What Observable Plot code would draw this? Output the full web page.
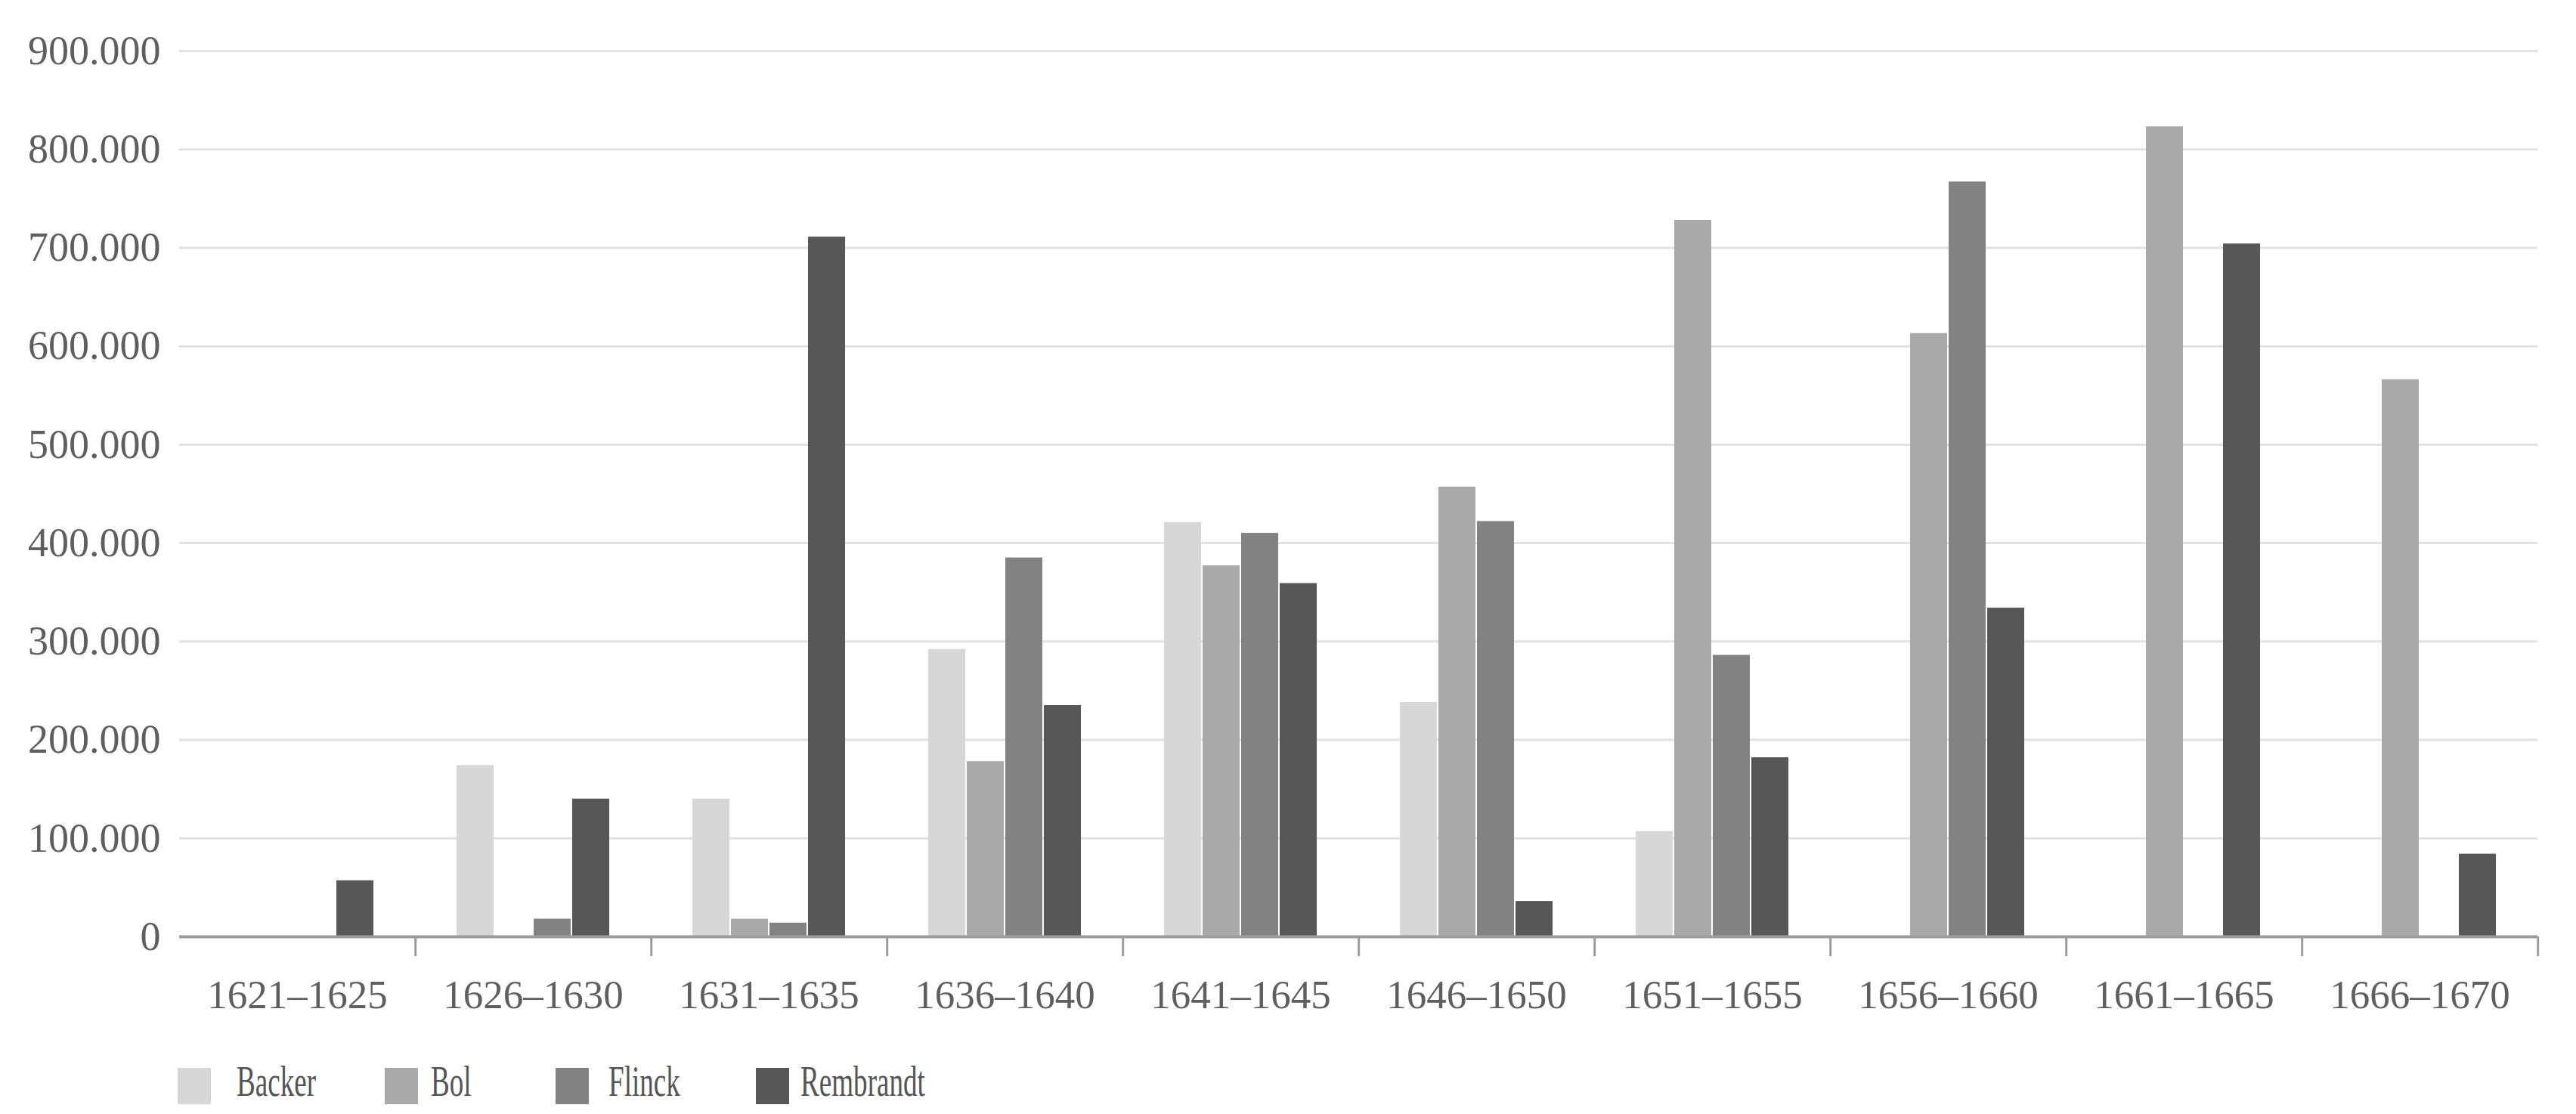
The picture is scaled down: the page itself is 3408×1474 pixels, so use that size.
<!DOCTYPE html>
<html>
<head>
<meta charset="utf-8">
<script src="https://cdn.jsdelivr.net/npm/d3@7"></script>
<script src="https://cdn.jsdelivr.net/npm/@observablehq/plot@0.6"></script>
<style>
  html, body { margin: 0; padding: 0; background: #ffffff; }
  #wrap { position: relative; width: 3408px; height: 1474px; }
  #legend { position: absolute; left: 0; top: 1380px; width: 3408px; height: 94px; }
  .sw { position: absolute; top: 33px; width: 44px; height: 48px; }
  .lb { position: absolute; top: 22px; font-family: "Liberation Serif", serif; font-size: 58px; color: #555; transform: scaleX(0.64); transform-origin: left center; white-space: nowrap; line-height: 1; }
</style>
</head>
<body>
<div id="wrap">
  <div id="chart"></div>
  <div id="legend"></div>
</div>
<script>
const periods = ["1621–1625","1626–1630","1631–1635","1636–1640","1641–1645","1646–1650","1651–1655","1656–1660","1661–1665","1666–1670"];
const artists = ["Backer","Bol","Flinck","Rembrandt"];
const backer    = [0, 174000, 140000, 292000, 421000, 238000, 107000, 0, 0, 0];
const bol       = [0, 0, 18000, 178000, 377000, 457000, 728000, 613000, 823000, 566000];
const flinck    = [0, 18000, 14000, 385000, 410000, 422000, 286000, 767000, 0, 0];
const rembrandt = [57000, 140000, 711000, 235000, 359000, 36000, 182000, 334000, 704000, 84000];
const colors = ["#d7d7d7", "#a9a9a9", "#828282", "#575757"];
const yTicks = [0, 100000, 200000, 300000, 400000, 500000, 600000, 700000, 800000, 900000];

const series = [backer, bol, flinck, rembrandt];
const data = [];
periods.forEach((p, i) => {
  artists.forEach((a, j) => {
    const v = series[j][i];
    if (v > 0) data.push({period: p, artist: a, value: v});
  });
});

const fmt = d => d3.format(",")(d).replace(/,/g, ".");
const W = 3408, ML = 235, MR = 49;
const step = (W - ML - MR) / periods.length;

const chart = Plot.plot({
  width: W,
  height: 1380,
  marginLeft: ML,
  marginRight: MR,
  marginTop: 67,
  marginBottom: 141,
  style: {fontFamily: "Liberation Serif, serif", fontSize: "54px", color: "#5f5f5f", background: "transparent"},
  fx: {domain: periods, padding: 0, label: null},
  x: {domain: artists, paddingInner: 0.03, paddingOuter: 1.05, axis: null},
  y: {domain: [0, 900000], label: null},
  color: {domain: artists, range: colors},
  marks: [
    Plot.gridY(yTicks.filter(d => d > 0), {stroke: "#e2e2e2", strokeOpacity: 1, strokeWidth: 3}),
    Plot.barY(data, {fx: "period", x: "artist", y: "value", fill: "artist"}),
    Plot.ruleY([0], {stroke: "#9c9c9c", strokeWidth: 4}),
    Plot.axisY({ticks: yTicks, tickSize: 0, tickPadding: 25, tickFormat: fmt, label: null, fontSize: 54}),
    Plot.axisFx({anchor: "bottom", tickSize: 0, tickPadding: 57, label: null, fontSize: 53}),
    Plot.axisFx({anchor: "bottom", tickSize: 26, tickFormat: () => "", dx: step / 2, stroke: "#9c9c9c", strokeWidth: 3, label: null})
  ]
});
document.getElementById("chart").appendChild(chart);

const swLeft = [235, 509, 735, 1000];
const lbGap = [78, 61, 70, 59];
const legend = document.getElementById("legend");
artists.forEach((a, i) => {
  const sw = document.createElement("div");
  sw.className = "sw";
  sw.style.left = swLeft[i] + "px";
  sw.style.background = colors[i];
  legend.appendChild(sw);
  const lb = document.createElement("div");
  lb.className = "lb";
  lb.style.left = (swLeft[i] + lbGap[i]) + "px";
  lb.textContent = a;
  legend.appendChild(lb);
});
</script>
</body>
</html>
